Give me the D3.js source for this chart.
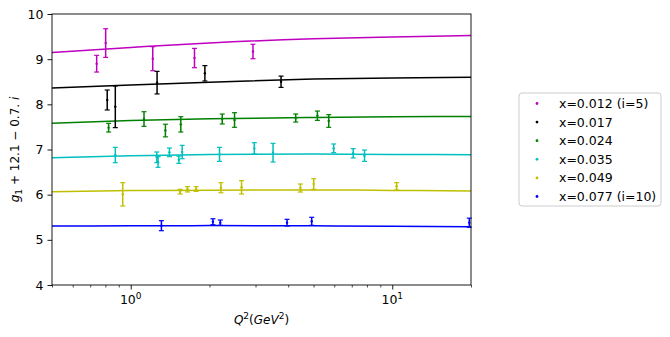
<!DOCTYPE html>
<html><head><meta charset="utf-8">
<script src="https://cdn.jsdelivr.net/npm/d3@7"></script>
<style>
body{margin:0;background:#fff;}
text{font-family:"DejaVu Sans",sans-serif;}
</style></head>
<body><svg id="c" width="670" height="337"></svg>
<script>
const labels = ["x=0.012 (i=5)","x=0.017","x=0.024","x=0.035","x=0.049","x=0.077 (i=10)"];
const colors = ["#bf00bf","#000000","#008000","#00bfbf","#bfbf00","#0000ff"];

// data points: Q2, value, error
const q2_012 = [0.741,0.802,1.214,1.753,2.934];
const g_012  = [8.90,9.357,9.01,9.025,9.17];
const e_012  = [0.185,0.317,0.266,0.214,0.16];

const q2_017 = [0.813,0.873,1.261,1.921,3.756];
const g_017  = [8.096,7.945,8.48,8.687,8.50];
const e_017  = [0.221,0.461,0.25,0.17,0.125];

const q2_024 = [0.823,1.124,1.357,1.554,2.238,2.494,4.274,5.173,5.715];
const g_024  = [7.483,7.675,7.42,7.557,7.675,7.653,7.697,7.748,7.631];
const e_024  = [0.096,0.162,0.14,0.17,0.11,0.162,0.089,0.103,0.14];

const q2_035 = [0.873,1.258,1.272,1.406,1.527,1.573,2.185,2.968,3.50,5.97,7.09,7.83];
const g_035  = [6.878,6.827,6.723,6.937,6.774,6.944,6.893,7.026,6.929,7.026,6.916,6.863];
const e_035  = [0.17,0.118,0.118,0.096,0.081,0.148,0.155,0.125,0.207,0.096,0.103,0.125];

const q2_049 = [0.932,1.545,1.648,1.779,2.212,2.653,4.455,5.007,10.39];
const g_049  = [6.008,6.066,6.119,6.125,6.154,6.163,6.147,6.236,6.185];
const e_049  = [0.258,0.052,0.059,0.052,0.111,0.148,0.089,0.118,0.081];

const q2_077 = [1.31,2.062,2.20,3.96,4.92,19.7];
const g_077  = [5.313,5.40,5.38,5.38,5.41,5.38];
const e_077  = [0.111,0.066,0.059,0.074,0.089,0.10];

// model curves
const curveQ2 = [0.5,1,2,5,10,20];
const fit_012 = [9.15,9.26,9.36,9.45,9.49,9.525];
const fit_017 = [8.36,8.43,8.49,8.56,8.585,8.60];
const fit_024 = [7.58,7.64,7.68,7.71,7.725,7.73];
const fit_035 = [6.82,6.86,6.89,6.90,6.89,6.885];
const fit_049 = [6.066,6.09,6.10,6.105,6.095,6.08];
const fit_077 = [5.306,5.31,5.315,5.31,5.30,5.29];

const yTicks = [4,5,6,7,8,9,10];

const pts = [[q2_012,g_012,e_012],[q2_017,g_017,e_017],[q2_024,g_024,e_024],
             [q2_035,g_035,e_035],[q2_049,g_049,e_049],[q2_077,g_077,e_077]];
const fits = [fit_012,fit_017,fit_024,fit_035,fit_049,fit_077];

const FS = 12.5, SS = 9;
const svg = d3.select("#c");
const L=52, T=14, R=471, B=285;
const x = d3.scaleLog().domain([0.5,20]).range([L,R]);
const y = d3.scaleLinear().domain([4,10]).range([B,T]);

const g = svg.append("g");
// curves
const line = d3.line().x(d=>x(d[0])).y(d=>y(d[1])).curve(d3.curveMonotoneX);
fits.forEach((f,i)=>{
  g.append("path").datum(curveQ2.map((q,j)=>[q,f[j]]))
    .attr("d",line).attr("fill","none").attr("stroke",colors[i]).attr("stroke-width",1.5);
});
// error bars
pts.forEach((s,i)=>{
  const [qs,vs,es]=s;
  qs.forEach((q,j)=>{
    const cx=x(q), y1=y(vs[j]+es[j]), y2=y(vs[j]-es[j]);
    g.append("line").attr("x1",cx).attr("x2",cx).attr("y1",y1).attr("y2",y2)
      .attr("stroke",colors[i]).attr("stroke-width",1.5);
    [y1,y2].forEach(yy=>g.append("line").attr("x1",cx-2.5).attr("x2",cx+2.5).attr("y1",yy).attr("y2",yy)
      .attr("stroke",colors[i]).attr("stroke-width",1.2));
    g.append("circle").attr("cx",cx).attr("cy",y(vs[j])).attr("r",1.2).attr("fill",colors[i]);
  });
});

// frame
svg.append("rect").attr("x",L).attr("y",T).attr("width",R-L).attr("height",B-T)
  .attr("fill","none").attr("stroke","#000").attr("stroke-width",0.9);

// y axis
const ya = svg.append("g").attr("transform",`translate(${L},0)`)
  .call(d3.axisLeft(y).tickValues(yTicks).tickFormat(d3.format("d")).tickSize(4.5).tickPadding(4));
ya.select(".domain").remove();
ya.selectAll("text").attr("font-size",FS).attr("fill","#000").attr("font-family","DejaVu Sans");
ya.selectAll("line").attr("stroke","#000").attr("stroke-width",0.9);

// x axis: major and minor ticks
const majors=[1,10];
const minors=[0.5,0.6,0.7,0.8,0.9,2,3,4,5,6,7,8,9,20];
const xa = svg.append("g").attr("transform",`translate(0,${B})`);
xa.call(d3.axisBottom(x).tickValues(majors).tickFormat("").tickSize(4.5));
xa.select(".domain").remove();
xa.selectAll("line").attr("stroke","#000").attr("stroke-width",0.9);
const xm = svg.append("g").attr("transform",`translate(0,${B})`);
xm.call(d3.axisBottom(x).tickValues(minors).tickFormat("").tickSize(2.5));
xm.select(".domain").remove();
xm.selectAll("line").attr("stroke","#000").attr("stroke-width",0.7);
majors.forEach((m,i)=>{
  const t=svg.append("text").attr("x",x(m)).attr("y",B+19).attr("text-anchor","middle").attr("font-size",FS);
  t.append("tspan").text("10");
  t.append("tspan").attr("font-size",SS).attr("dy",-5).text(String(i));
});

// x label
const xl = svg.append("text").attr("x",(L+R)/2).attr("y",B+39).attr("text-anchor","middle").attr("font-size",12);
xl.append("tspan").attr("font-style","italic").text("Q");
xl.append("tspan").attr("font-size",SS).attr("dy",-5).text("2");
xl.append("tspan").attr("dy",5).text("(");
xl.append("tspan").attr("font-style","italic").text("GeV");
xl.append("tspan").attr("font-size",SS).attr("dy",-5).text("2");
xl.append("tspan").attr("dy",5).text(")");

// y label
const yl = svg.append("text").attr("transform",`translate(19,${(T+B)/2}) rotate(-90)`)
  .attr("text-anchor","middle").attr("font-size",12);
yl.append("tspan").attr("font-style","italic").text("g");
yl.append("tspan").attr("font-size",SS).attr("dy",3).text("1");
yl.append("tspan").attr("dy",-3).text(" + 12.1 \u2212 0.7. ");
yl.append("tspan").attr("font-style","italic").text("i");

// legend
const lg = svg.append("g");
lg.append("rect").attr("x",519).attr("y",93).attr("width",142).attr("height",113).attr("rx",3)
  .attr("fill","#fff").attr("stroke","#ccc").attr("stroke-width",1);
labels.forEach((lab,i)=>{
  const yy=103.5+i*18.6;
  lg.append("circle").attr("cx",537).attr("cy",yy).attr("r",1.4).attr("fill",colors[i]);
  lg.append("text").attr("x",559).attr("y",yy+4.5).attr("font-size",FS).text(lab);
});
</script></body></html>
